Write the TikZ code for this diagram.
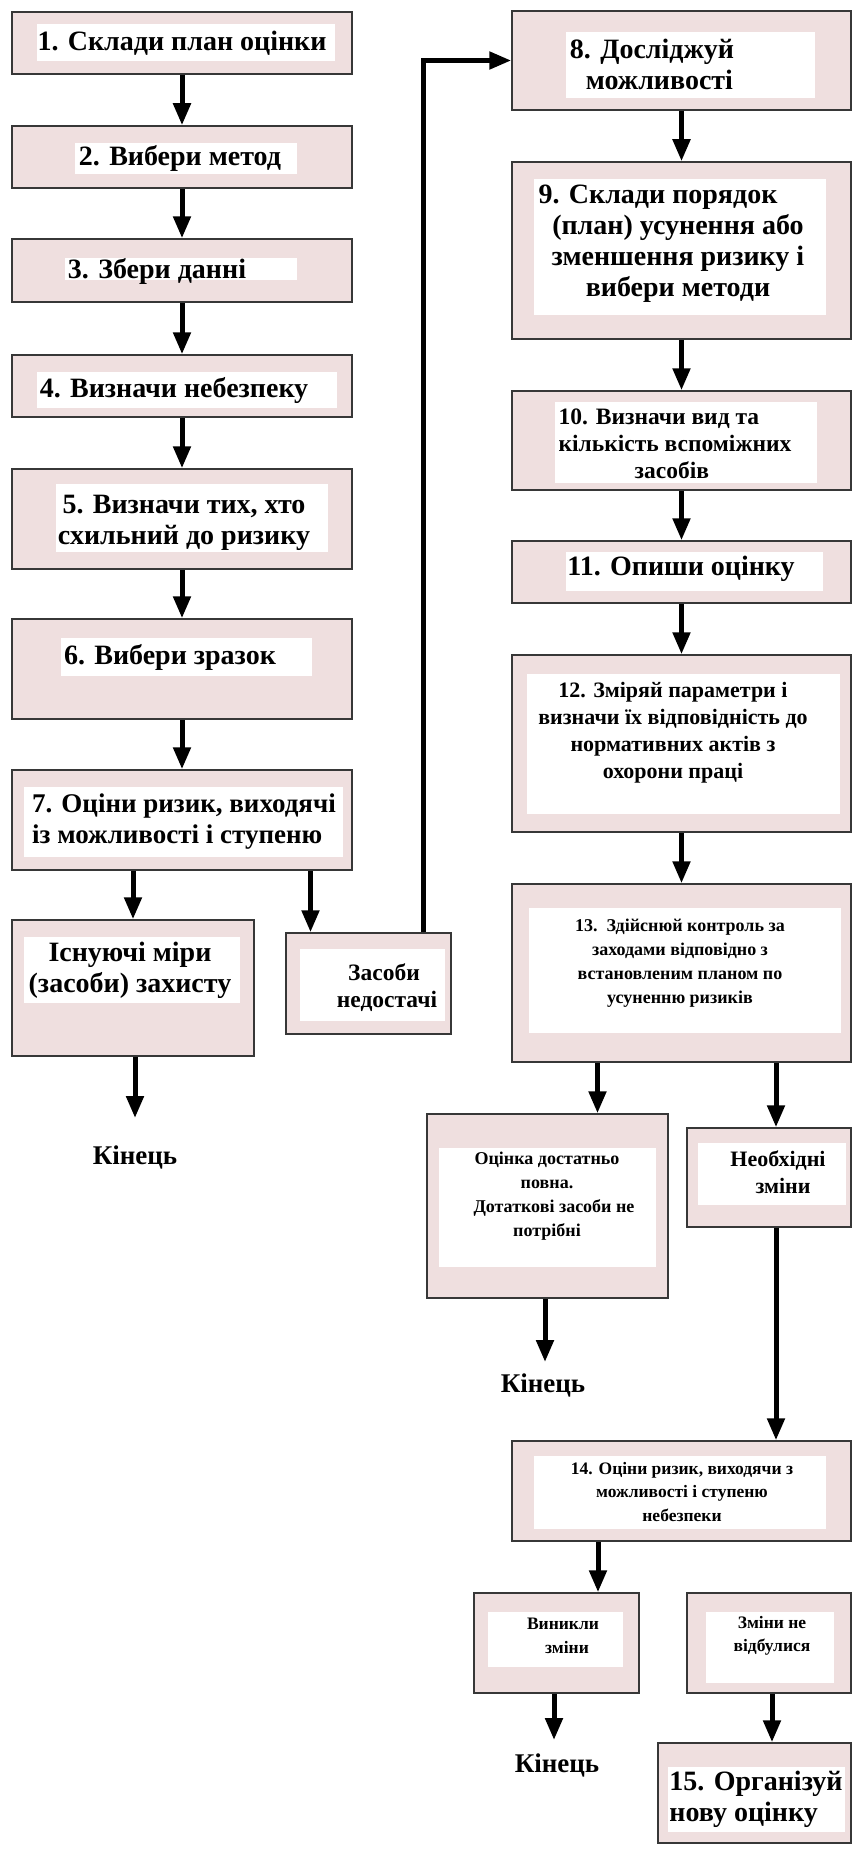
\documentclass[tikz,border=0pt]{standalone}
\usepackage{fontspec}
\setmainfont{Liberation Serif}
\usetikzlibrary{arrows.meta}
\definecolor{boxpink}{RGB}{239,223,223}
\definecolor{boxline}{RGB}{55,55,55}
\begin{document}
\begin{tikzpicture}[x=1pt,y=-1pt,
  box/.style={draw=boxline, fill=boxpink, line width=1.5pt, inner sep=0pt},
  arr/.style={line width=5pt, line join=miter, -{Triangle[length=22pt,width=17pt]}},
  lbl/.style={inner sep=0pt, align=center},
  fa/.style={font=\bfseries\fontsize{28}{31}\selectfont},
  fax/.style={font=\bfseries\fontsize{27}{31}\selectfont},
  fb/.style={font=\bfseries\fontsize{22}{27}\selectfont},
  fbx/.style={font=\bfseries\fontsize{23.5}{27}\selectfont},
  fc/.style={font=\bfseries\fontsize{18}{24}\selectfont},
  fd/.style={font=\bfseries\fontsize{17.5}{23.5}\selectfont},
  wbg/.style={fill=white}]
\useasboundingbox[fill=white] (0,0) rectangle (855,1849);

% ---- boxes
\node[box, minimum width=340pt, minimum height=62pt] (b1) at (182,43) {};
\node[box, minimum width=340pt, minimum height=62pt] (b2) at (182,157) {};
\node[box, minimum width=340pt, minimum height=63pt] (b3) at (182,270.5) {};
\node[box, minimum width=340pt, minimum height=62pt] (b4) at (182,386) {};
\node[box, minimum width=340pt, minimum height=100pt] (b5) at (182,519) {};
\node[box, minimum width=340pt, minimum height=100pt] (b6) at (182,669) {};
\node[box, minimum width=340pt, minimum height=100pt] (b7) at (182,820) {};
\node[box, minimum width=242pt, minimum height=136pt] (b7a) at (133,988) {};
\node[box, minimum width=165pt, minimum height=101pt] (b7b) at (368.5,983.5) {};
\node[box, minimum width=339pt, minimum height=99pt] (b8) at (681.5,60.5) {};
\node[box, minimum width=339pt, minimum height=177pt] (b9) at (681.5,250.5) {};
\node[box, minimum width=339pt, minimum height=99pt] (b10) at (681.5,440.5) {};
\node[box, minimum width=339pt, minimum height=62pt] (b11) at (681.5,572) {};
\node[box, minimum width=339pt, minimum height=177pt] (b12) at (681.5,743.5) {};
\node[box, minimum width=339pt, minimum height=178pt] (b13) at (681.5,973) {};
\node[box, minimum width=241pt, minimum height=184pt] (b13a) at (547.5,1206) {};
\node[box, minimum width=164pt, minimum height=99pt] (b13b) at (769,1177.5) {};
\node[box, minimum width=339pt, minimum height=100pt] (b14) at (681.5,1491) {};
\node[box, minimum width=165pt, minimum height=100pt] (b14a) at (556.5,1643) {};
\node[box, minimum width=164pt, minimum height=100pt] (b14b) at (769,1643) {};
\node[box, minimum width=193pt, minimum height=100pt] (b15) at (754.5,1793) {};

% ---- white text backgrounds
\fill[wbg] (37,24) rectangle (335,61);
\fill[wbg] (75,143) rectangle (297,174);
\fill[wbg] (65,258) rectangle (297,280);
\fill[wbg] (37,372) rectangle (337,408);
\fill[wbg] (56,484) rectangle (328,552);
\fill[wbg] (61,638) rectangle (312,676);
\fill[wbg] (24,787) rectangle (343,857);
\fill[wbg] (24,937) rectangle (240,1003);
\fill[wbg] (300,949) rectangle (445,1021);
\fill[wbg] (566,32) rectangle (815,98);
\fill[wbg] (534,179) rectangle (826,315);
\fill[wbg] (555,402) rectangle (817,483);
\fill[wbg] (566,552) rectangle (823,591);
\fill[wbg] (527,674) rectangle (840,814);
\fill[wbg] (529,908) rectangle (841,1033);
\fill[wbg] (439,1148) rectangle (656,1267);
\fill[wbg] (698,1143) rectangle (846,1205);
\fill[wbg] (534,1456) rectangle (826,1529);
\fill[wbg] (488,1612) rectangle (623,1667);
\fill[wbg] (706,1612) rectangle (834,1683);
\fill[wbg] (668,1767) rectangle (845,1832);

% ---- texts
\node[lbl, fa] (t1) at (182,43) {1. Склади план оцінки};
\node[lbl, fa] (t2) at (180,158) {2. Вибери метод};
\node[lbl, fa] (t3) at (157,271) {3. Збери данні};
\node[lbl, fa] (t4) at (174,390) {4. Визначи небезпеку};
\node[lbl, fa] (t5) at (184,523) {5. Визначи тих, хто\\схильний до ризику};
\node[lbl, fa] (t6) at (170,657) {6. Вибери зразок};
\node[lbl, fax, align=left] (t7) at (184,822) {7. Оціни ризик, виходячі\\із можливості і ступеню};
\node[lbl, fa] (t7at) at (130,970) {Існуючі міри\\(засоби) захисту};
\node[lbl, fbx] (t7bt) at (384,988) {Засоби\\\hspace*{6pt}недостачі};
\node[lbl, fa, align=left] (t8) at (652,64) {8. Досліджуй\\\hspace*{16pt}можливості};
\node[lbl, fa] (t9) at (678,243.5) {9. Склади порядок\hspace*{40pt}\\(план) усунення або\\зменшення ризику і\\вибери методи};
\node[lbl, fbx, align=left] (t10) at (675,444) {10. Визначи вид та\\кількість вспоміжних\\\hspace*{76pt}засобів};
\node[lbl, fa] (t11) at (681,569) {11. Опиши оцінку};
\node[lbl, fb] (t12) at (673,732.5) {12. Зміряй параметри і\\визначи їх відповідність до\\нормативних актів з\\охорони праці};
\node[lbl, fc] (t13) at (680,963) {13.\ \ Здійснюй контроль за\\заходами відповідно з\\встановленим планом по\\усуненню ризиків};
\node[lbl, fc] (t13at) at (547,1196) {Оцінка достатньо\\повна.\\\hspace*{14pt}Дотаткові засоби не\\потрібні};
\node[lbl, fb] (t13bt) at (778,1172.5) {Необхідні\\\hspace*{10pt}зміни};
\node[lbl, fd] (t14) at (682,1491.5) {14. Оціни ризик, виходячи з\\можливості і ступеню\\небезпеки};
\node[lbl, fd] (t14at) at (563,1636) {Виникли\\\hspace*{8pt}зміни};
\node[lbl, fd] (t14bt) at (772,1636) {Зміни не\\відбулися};
\node[lbl, fa, align=left] (t15) at (756,1799) {15. Організуй\\нову оцінку};
\node[lbl, fax] (k1) at (135,1157) {Кінець};
\node[lbl, fax] (k2) at (543,1385) {Кінець};
\node[lbl, fax] (k3) at (557,1765) {Кінець};

\coordinate (e1) at (135,1118);
\coordinate (e2) at (545,1362);
\coordinate (e3) at (554,1740);

% ---- connectors
\draw[arr] (b1.south) -- (b2.north);
\draw[arr] (b2.south) -- (b3.north);
\draw[arr] (b3.south) -- (b4.north);
\draw[arr] (b4.south) -- (b5.north);
\draw[arr] (b5.south) -- (b6.north);
\draw[arr] (b6.south) -- (b7.north);
\draw[arr] (b7.south -| b7a.north) -- (b7a.north);
\draw[arr] ([xshift=-58pt]b7b.north |- b7.south) -- ([xshift=-58pt]b7b.north);
\draw[arr] (b7a.south -| e1) -- (e1);
\draw[arr] ([xshift=54.5pt]b7b.north) |- (b8.west);
\draw[arr] (b8.south) -- (b9.north);
\draw[arr] (b9.south) -- (b10.north);
\draw[arr] (b10.south) -- (b11.north);
\draw[arr] (b11.south) -- (b12.north);
\draw[arr] (b12.south) -- (b13.north);
\draw[arr] ([xshift=50pt]b13a.north |- b13.south) -- ([xshift=50pt]b13a.north);
\draw[arr] ([xshift=7pt]b13b.north |- b13.south) -- ([xshift=7pt]b13b.north);
\draw[arr] (b13a.south -| e2) -- (e2);
\draw[arr] ([xshift=7pt]b13b.south) -- ([xshift=7pt]b13b.south |- b14.north);
\draw[arr] ([xshift=41.5pt]b14a.north |- b14.south) -- ([xshift=41.5pt]b14a.north);
\draw[arr] (b14a.south -| e3) -- (e3);
\draw[arr] ([xshift=3pt]b14b.south) -- ([xshift=3pt]b14b.south |- b15.north);
\end{tikzpicture}
\end{document}
